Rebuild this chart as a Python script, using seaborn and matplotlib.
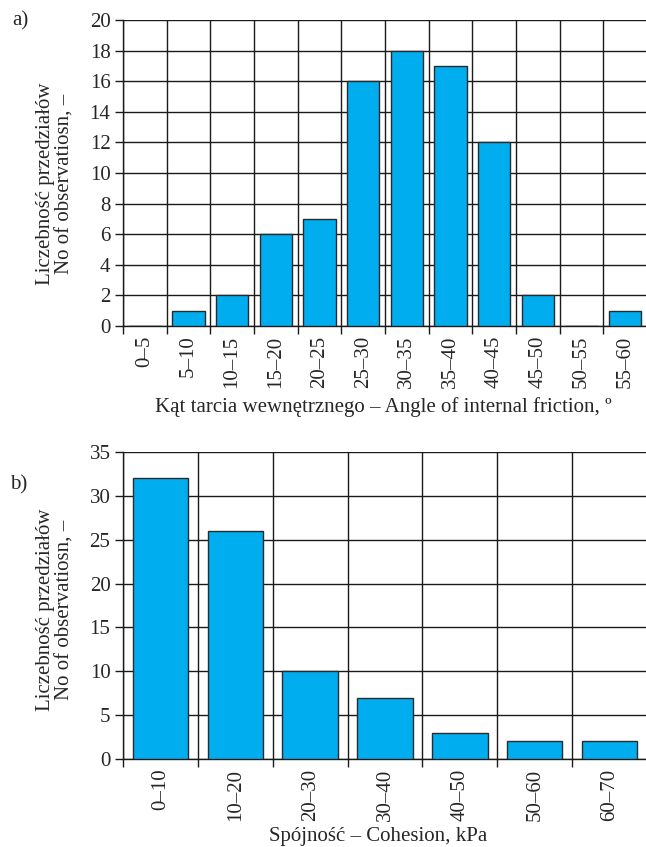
import matplotlib
matplotlib.use("Agg")
import matplotlib.pyplot as plt
import seaborn as sns
import pandas as pd
from matplotlib.ticker import FixedLocator

sns.set_theme(style="white")
plt.rcParams['font.family'] = ['Liberation Serif', 'DejaVu Serif']

# Data
angle_bins = ["0–5", "5–10", "10–15", "15–20", "20–25", "25–30", "30–35",
              "35–40", "40–45", "45–50", "50–55", "55–60"]
angle_counts = [0, 1, 2, 6, 7, 16, 18, 17, 12, 2, 0, 1]

cohesion_bins = ["0–10", "10–20", "20–30", "30–40", "40–50", "50–60", "60–70"]
cohesion_counts = [32, 26, 10, 7, 3, 2, 2]

ylabel_text = "Liczebność przedziałów\nNo of observatiosn, –"
BAR = "#00AEEF"
FS = 15

fig = plt.figure(figsize=(6.46, 8.47), dpi=100)
W, H = 646, 847
def axes_px(l, t, r, b):
    return fig.add_axes([l / W, 1 - b / H, (r - l) / W, (b - t) / H])

ax1 = axes_px(123, 20, 647, 326)
ax2 = axes_px(123, 452, 647, 759)

def style(ax, cats, vals, ymax, ystep):
    df = pd.DataFrame({"bin": cats, "n": vals})
    sns.barplot(data=df, x="bin", y="n", ax=ax, color=BAR, saturation=1,
                width=0.74, edgecolor="#2a2a2a", linewidth=1.0, zorder=3)
    n = len(cats)
    ax.set_xlim(-0.5, n - 0.5)
    ax.set_ylim(0, ymax)
    ax.set_yticks(range(0, ymax + 1, ystep))
    ax.xaxis.set_minor_locator(FixedLocator([i - 0.5 for i in range(n + 1)]))
    ax.grid(False)
    ax.grid(True, which="minor", axis="x", color="#1a1a1a", linewidth=1.0, zorder=0)
    ax.grid(True, which="major", axis="y", color="#1a1a1a", linewidth=1.0, zorder=0)
    ax.set_axisbelow(True)
    for s in ["top", "right"]:
        ax.spines[s].set_visible(False)
    for s in ["left", "bottom"]:
        ax.spines[s].set_color("#1a1a1a")
        ax.spines[s].set_linewidth(1.0)
    ax.tick_params(axis="x", which="major", length=0, labelsize=FS, rotation=90, pad=7)
    ax.tick_params(axis="x", which="minor", length=6, width=1.0, color="#1a1a1a", bottom=True)
    ax.tick_params(axis="y", which="major", length=6, width=1.0, color="#1a1a1a",
                   labelsize=FS, left=True, pad=3)
    for lab in ax.get_xticklabels():
        lab.set_va("top")
    ax.set_xlabel("")
    ax.set_ylabel("")

style(ax1, angle_bins, angle_counts, 20, 2)
style(ax2, cohesion_bins, cohesion_counts, 35, 5)

def ftext(x, y, s, **kw):
    fig.text(x / W, 1 - y / H, s, fontsize=FS, **kw)

ftext(55, 184, ylabel_text, rotation=90, ha="center", va="center", linespacing=1.05,
      multialignment="center")
ftext(55, 610, ylabel_text, rotation=90, ha="center", va="center", linespacing=1.05,
      multialignment="center")
ftext(383, 407, "Kąt tarcia wewnętrznego – Angle of internal friction, º",
      ha="center", va="center")
ftext(378, 836, "Spójność – Cohesion, kPa", ha="center", va="center")

ftext(12, 21, "a)", va="center", ha="left")
ftext(10, 485, "b)", va="center", ha="left")

fig.savefig("out.png", dpi=100)
